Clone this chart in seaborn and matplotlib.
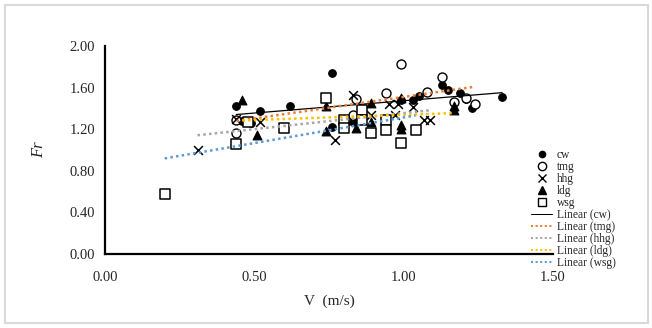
import numpy as np
import pandas as pd
import matplotlib
matplotlib.use("Agg")
import matplotlib.pyplot as plt
from matplotlib.patches import Rectangle
from matplotlib.lines import Line2D
import seaborn as sns

# ---- data ----
cw_x = [0.44, 0.46, 0.49, 0.52, 0.62, 0.76, 0.76, 0.83, 0.99, 1.03, 1.05, 1.13, 1.15, 1.19, 1.21, 1.23, 1.33]
cw_y = [1.42, 1.28, 1.26, 1.37, 1.42, 1.74, 1.22, 1.27, 1.48, 1.48, 1.52, 1.62, 1.58, 1.55, 1.49, 1.40, 1.51]

tmg_x = [0.44, 0.44, 0.83, 0.84, 0.94, 0.99, 1.08, 1.13, 1.17, 1.21, 1.24]
tmg_y = [1.29, 1.16, 1.34, 1.49, 1.55, 1.83, 1.56, 1.70, 1.46, 1.50, 1.44]

hhg_x = [0.31, 0.44, 0.52, 0.77, 0.83, 0.89, 0.89, 0.95, 0.97, 0.98, 1.03, 1.07, 1.09]
hhg_y = [1.00, 1.30, 1.27, 1.10, 1.53, 1.34, 1.16, 1.44, 1.34, 1.44, 1.41, 1.29, 1.29]

ldg_x = [0.46, 0.51, 0.74, 0.74, 0.84, 0.89, 0.89, 0.99, 0.99, 0.99, 1.17, 1.17]
ldg_y = [1.48, 1.14, 1.42, 1.18, 1.21, 1.45, 1.27, 1.50, 1.24, 1.20, 1.42, 1.38]

wsg_x = [0.20, 0.44, 0.48, 0.60, 0.74, 0.80, 0.80, 0.86, 0.86, 0.89, 0.94, 0.94, 0.99, 1.04]
wsg_y = [0.58, 1.06, 1.27, 1.21, 1.50, 1.29, 1.21, 1.38, 1.29, 1.16, 1.29, 1.19, 1.07, 1.19]

series = ["cw", "tmg", "hhg", "ldg", "wsg"]
xs = [cw_x, tmg_x, hhg_x, ldg_x, wsg_x]
ys = [cw_y, tmg_y, hhg_y, ldg_y, wsg_y]

x_ticks = [0.00, 0.50, 1.00, 1.50]
y_ticks = [0.00, 0.40, 0.80, 1.20, 1.60, 2.00]

df = pd.concat([pd.DataFrame({"V": x, "Fr": y, "group": s}) for s, x, y in zip(series, xs, ys)],
               ignore_index=True)

# ---- style ----
sns.set_style("white")
plt.rcParams["font.family"] = ["Liberation Serif", "DejaVu Serif"]

marker_style = {
    "cw":  dict(marker="o", s=30, facecolor="black", edgecolor="black", linewidth=0.8),
    "tmg": dict(marker="o", s=42, facecolor="white", edgecolor="black", linewidth=1.0),
    "hhg": dict(marker="x", s=40, color="black", linewidth=1.1),
    "ldg": dict(marker="^", s=40, facecolor="black", edgecolor="black", linewidth=0.8),
    "wsg": dict(marker="s", s=44, facecolor="white", edgecolor="black", linewidth=1.1),
}
line_style = {
    "cw":  dict(color="black", lw=0.9, ls="-"),
    "tmg": dict(color="#ED7D31", lw=1.8, ls=(0, (1, 1.3))),
    "hhg": dict(color="#A5A5A5", lw=1.8, ls=(0, (1, 1.3))),
    "ldg": dict(color="#FFC000", lw=1.8, ls=(0, (1, 1.3))),
    "wsg": dict(color="#5B9BD5", lw=1.8, ls=(0, (1, 1.3))),
}

fig = plt.figure(figsize=(6.52, 3.28), dpi=100)
ax = fig.add_axes([0.161, 0.2256, 0.687, 0.6344])

for s in series:
    sub = df[df["group"] == s]
    sns.scatterplot(data=sub, x="V", y="Fr", ax=ax, zorder=3, legend=False, **marker_style[s])

for s in series:
    sub = df[df["group"] == s]
    sns.regplot(data=sub, x="V", y="Fr", ax=ax, scatter=False, ci=None, truncate=True,
                line_kws=dict(zorder=4, **line_style[s]))

ax.set_xlim(0, 1.5)
ax.set_ylim(0, 2.0)
ax.set_xticks(x_ticks)
ax.set_yticks(y_ticks)
ax.set_xticklabels([f"{v:.2f}" for v in x_ticks], fontsize=10.5)
ax.set_yticklabels([f"{v:.2f}" for v in y_ticks], fontsize=10.5)
ax.tick_params(axis="both", direction="out", length=4, width=1.2, color="black", pad=3)
ax.tick_params(axis="x", pad=8)
for side in ["top", "right"]:
    ax.spines[side].set_visible(False)
for side in ["left", "bottom"]:
    ax.spines[side].set_color("black")
    ax.spines[side].set_linewidth(1.6)

ax.set_xlabel("V  (m/s)", fontsize=11, labelpad=8)
ax.set_ylabel("Fr", fontsize=12, style="italic", labelpad=16)

# legend
handles = []
labels = []
mk = {"cw": ("o", "black", 4.5), "tmg": ("o", "white", 6), "hhg": ("x", "black", 6),
      "ldg": ("^", "black", 6), "wsg": ("s", "white", 6)}
for s in series:
    m, fc, ms = mk[s]
    handles.append(Line2D([], [], ls="none", marker=m, markerfacecolor=fc, markeredgecolor="black",
                          markersize=ms, markeredgewidth=1.0, color="black"))
    labels.append(s)
for s in series:
    st = line_style[s]
    handles.append(Line2D([], [], color=st["color"], lw=st["lw"] * 0.8, ls=st["ls"]))
    labels.append(f"Linear ({s})")
fig.legend(handles, labels, loc="upper left", bbox_to_anchor=(0.808, 0.56), frameon=False,
           fontsize=8.3, handlelength=1.8, handletextpad=0.4, labelspacing=0.0, borderaxespad=0)

# outer frame
fig.patches.append(Rectangle((0.008, 0.016), 0.986, 0.968, transform=fig.transFigure,
                             fill=False, edgecolor="#D9D9D9", lw=1.5))

fig.savefig("out.png", dpi=100)
